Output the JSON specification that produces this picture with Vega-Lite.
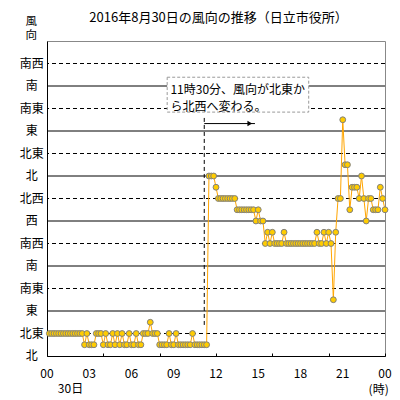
{
  "$schema": "https://vega.github.io/schema/vega-lite/v6.json",
  "autosize": "none",
  "width": 338,
  "height": 315,
  "padding": {"left": 47, "top": 41, "right": 15, "bottom": 44},
  "background": "white",
  "config": {
    "font": "Noto Sans CJK JP",
    "view": {"stroke": "#888888", "strokeWidth": 1}
  },
  "datasets": {
    "gridlines": [
      {"g": 0, "kind": "axis", "name": "北"}, {"g": 1, "kind": "dashed", "name": "北東"}, {"g": 2, "kind": "solid", "name": "東"},
      {"g": 3, "kind": "dashed", "name": "南東"}, {"g": 4, "kind": "solid", "name": "南"}, {"g": 5, "kind": "dashed", "name": "南西"},
      {"g": 6, "kind": "solid", "name": "西"}, {"g": 7, "kind": "dashed", "name": "北西"}, {"g": 8, "kind": "solid", "name": "北"},
      {"g": 9, "kind": "dashed", "name": "北東"}, {"g": 10, "kind": "solid", "name": "東"}, {"g": 11, "kind": "dashed", "name": "南東"},
      {"g": 12, "kind": "solid", "name": "南"}, {"g": 13, "kind": "dashed", "name": "南西"}
    ],
    "hours": [
      {"m": 0, "label": "00"}, {"m": 180, "label": "03"}, {"m": 360, "label": "06"}, {"m": 540, "label": "09"},
      {"m": 720, "label": "12"}, {"m": 900, "label": "15"}, {"m": 1080, "label": "18"}, {"m": 1260, "label": "21"},
      {"m": 1440, "label": "00"}
    ],
    "wind": [
      {"m": 10, "v": 1}, {"m": 20, "v": 1}, {"m": 30, "v": 1}, {"m": 40, "v": 1}, {"m": 50, "v": 1}, {"m": 60, "v": 1},
      {"m": 70, "v": 1}, {"m": 80, "v": 1}, {"m": 90, "v": 1}, {"m": 100, "v": 1}, {"m": 110, "v": 1}, {"m": 120, "v": 1},
      {"m": 130, "v": 1}, {"m": 140, "v": 1}, {"m": 150, "v": 1}, {"m": 160, "v": 0.5}, {"m": 170, "v": 1}, {"m": 180, "v": 0.5},
      {"m": 190, "v": 0.5}, {"m": 200, "v": 0.5}, {"m": 210, "v": 1}, {"m": 220, "v": 1}, {"m": 230, "v": 1}, {"m": 240, "v": 0.5},
      {"m": 250, "v": 1}, {"m": 260, "v": 0.5}, {"m": 270, "v": 0.5}, {"m": 280, "v": 1}, {"m": 290, "v": 0.5}, {"m": 300, "v": 1},
      {"m": 310, "v": 0.5}, {"m": 320, "v": 1}, {"m": 330, "v": 0.5}, {"m": 340, "v": 0.5}, {"m": 350, "v": 1}, {"m": 360, "v": 0.5},
      {"m": 370, "v": 0.5}, {"m": 380, "v": 1}, {"m": 390, "v": 0.5}, {"m": 400, "v": 0.5}, {"m": 410, "v": 1}, {"m": 420, "v": 1},
      {"m": 430, "v": 1}, {"m": 440, "v": 1.5}, {"m": 450, "v": 1}, {"m": 460, "v": 1}, {"m": 470, "v": 1}, {"m": 480, "v": 0.5},
      {"m": 490, "v": 0.5}, {"m": 500, "v": 0.5}, {"m": 510, "v": 0.5}, {"m": 520, "v": 1}, {"m": 530, "v": 0.5}, {"m": 540, "v": 0.5},
      {"m": 550, "v": 1}, {"m": 560, "v": 0.5}, {"m": 570, "v": 0.5}, {"m": 580, "v": 0.5}, {"m": 590, "v": 0.5}, {"m": 600, "v": 0.5},
      {"m": 610, "v": 0.5}, {"m": 620, "v": 1}, {"m": 630, "v": 0.5}, {"m": 640, "v": 0.5}, {"m": 650, "v": 0.5}, {"m": 660, "v": 0.5},
      {"m": 670, "v": 0.5}, {"m": 680, "v": 0.5}, {"m": 690, "v": 8}, {"m": 700, "v": 8}, {"m": 710, "v": 8}, {"m": 720, "v": 7.5},
      {"m": 730, "v": 7}, {"m": 740, "v": 7}, {"m": 750, "v": 7}, {"m": 760, "v": 7}, {"m": 770, "v": 7}, {"m": 780, "v": 7},
      {"m": 790, "v": 7}, {"m": 800, "v": 7}, {"m": 810, "v": 6.5}, {"m": 820, "v": 6.5}, {"m": 830, "v": 6.5}, {"m": 840, "v": 6.5},
      {"m": 850, "v": 6.5}, {"m": 860, "v": 6.5}, {"m": 870, "v": 6.5}, {"m": 880, "v": 6.5}, {"m": 890, "v": 6}, {"m": 900, "v": 6.5},
      {"m": 910, "v": 6}, {"m": 920, "v": 6}, {"m": 930, "v": 5}, {"m": 940, "v": 5.5}, {"m": 950, "v": 5}, {"m": 960, "v": 5.5},
      {"m": 970, "v": 5}, {"m": 980, "v": 5}, {"m": 990, "v": 5}, {"m": 1000, "v": 5}, {"m": 1010, "v": 5.5}, {"m": 1020, "v": 5},
      {"m": 1030, "v": 5}, {"m": 1040, "v": 5}, {"m": 1050, "v": 5}, {"m": 1060, "v": 5}, {"m": 1070, "v": 5}, {"m": 1080, "v": 5},
      {"m": 1090, "v": 5}, {"m": 1100, "v": 5}, {"m": 1110, "v": 5}, {"m": 1120, "v": 5}, {"m": 1130, "v": 5}, {"m": 1140, "v": 5},
      {"m": 1150, "v": 5.5}, {"m": 1160, "v": 5}, {"m": 1170, "v": 5}, {"m": 1180, "v": 5.5}, {"m": 1190, "v": 5}, {"m": 1200, "v": 5.5},
      {"m": 1210, "v": 5}, {"m": 1220, "v": 2.5}, {"m": 1230, "v": 5.5}, {"m": 1240, "v": 7}, {"m": 1250, "v": 7}, {"m": 1260, "v": 10.5},
      {"m": 1270, "v": 8.5}, {"m": 1280, "v": 8.5}, {"m": 1290, "v": 6.5}, {"m": 1300, "v": 7.5}, {"m": 1310, "v": 7.5}, {"m": 1320, "v": 7.5},
      {"m": 1330, "v": 7}, {"m": 1340, "v": 8}, {"m": 1350, "v": 7}, {"m": 1360, "v": 6}, {"m": 1370, "v": 7}, {"m": 1380, "v": 7},
      {"m": 1390, "v": 6.5}, {"m": 1400, "v": 6.5}, {"m": 1410, "v": 6.5}, {"m": 1420, "v": 7.5}, {"m": 1430, "v": 7}, {"m": 1440, "v": 6.5}
    ]
  },
  "layer": [
    {
      "data": {"name": "gridlines"},
      "transform": [{"filter": "datum.kind === 'solid'"}],
      "mark": {"type": "rule", "color": "black", "strokeWidth": 1},
      "encoding": {
        "y": {"field": "g", "type": "quantitative"}
      }
    },
    {
      "data": {"name": "gridlines"},
      "transform": [{"filter": "datum.kind === 'dashed'"}],
      "mark": {"type": "rule", "color": "black", "strokeWidth": 1, "strokeDash": [4, 3]},
      "encoding": {
        "y": {"field": "g", "type": "quantitative"}
      }
    },
    {
      "data": {"name": "gridlines"},
      "mark": {"type": "text", "align": "center", "baseline": "middle", "fontSize": 12, "color": "black"},
      "encoding": {
        "x": {"datum": -65, "type": "quantitative"},
        "y": {"field": "g", "type": "quantitative"},
        "text": {"field": "name"}
      }
    },
    {
      "data": {"name": "hours"},
      "mark": {"type": "text", "align": "center", "baseline": "middle", "fontSize": 12, "color": "black"},
      "encoding": {
        "x": {"field": "m", "type": "quantitative"},
        "y": {"datum": -0.78, "type": "quantitative"},
        "text": {"field": "label"}
      }
    },
    {
      "data": {"values": [{}]},
      "mark": {"type": "text", "text": "2016年8月30日の風向の推移（日立市役所）", "align": "center", "baseline": "middle", "fontSize": 13, "color": "black"},
      "encoding": {
        "x": {"datum": 731, "type": "quantitative"},
        "y": {"datum": 15.01, "type": "quantitative"}
      }
    },
    {
      "data": {"values": [{}]},
      "mark": {"type": "text", "text": ["風", "向"], "align": "center", "baseline": "top", "lineHeight": 14, "fontSize": 11.5, "color": "black"},
      "encoding": {
        "x": {"datum": -67, "type": "quantitative"},
        "y": {"datum": 15.13, "type": "quantitative"}
      }
    },
    {
      "data": {"values": [{}]},
      "mark": {"type": "rect", "fill": "white", "stroke": "#999999", "strokeWidth": 1, "strokeDash": [3, 2]},
      "encoding": {
        "x": {"datum": 512, "type": "quantitative"},
        "x2": {"datum": 1115},
        "y": {"datum": 12.39, "type": "quantitative"},
        "y2": {"datum": 10.84}
      }
    },
    {
      "data": {"values": [{}]},
      "mark": {"type": "text", "text": "11時30分、風向が北東か", "align": "left", "baseline": "middle", "fontSize": 12, "color": "black"},
      "encoding": {
        "x": {"datum": 526, "type": "quantitative"},
        "y": {"datum": 11.81, "type": "quantitative"}
      }
    },
    {
      "data": {"values": [{}]},
      "mark": {"type": "text", "text": "ら北西へ変わる。", "align": "left", "baseline": "middle", "fontSize": 12, "color": "black"},
      "encoding": {
        "x": {"datum": 526, "type": "quantitative"},
        "y": {"datum": 11.07, "type": "quantitative"}
      }
    },
    {
      "data": {"values": [{}]},
      "mark": {"type": "rule", "color": "black", "strokeWidth": 1, "strokeDash": [4, 3]},
      "encoding": {
        "x": {"datum": 670, "type": "quantitative"},
        "y": {"datum": 10.58, "type": "quantitative"},
        "y2": {"datum": 1.36}
      }
    },
    {
      "data": {"values": [{}]},
      "mark": {"type": "rule", "color": "black", "strokeWidth": 1},
      "encoding": {
        "x": {"datum": 670, "type": "quantitative"},
        "x2": {"datum": 886},
        "y": {"datum": 10.33, "type": "quantitative"}
      }
    },
    {
      "data": {"values": [{}]},
      "mark": {"type": "point", "shape": "triangle-right", "filled": true, "color": "black", "size": 30, "opacity": 1},
      "encoding": {
        "x": {"datum": 864, "type": "quantitative"},
        "y": {"datum": 10.33, "type": "quantitative"}
      }
    },
    {
      "data": {"values": [{}]},
      "mark": {"type": "text", "text": "(時)", "align": "center", "baseline": "middle", "fontSize": 12, "color": "black"},
      "encoding": {
        "x": {"datum": 1413, "type": "quantitative"},
        "y": {"datum": -1.49, "type": "quantitative"}
      }
    },
    {
      "data": {"name": "wind"},
      "mark": {"type": "line", "color": "#FFA500", "strokeWidth": 1},
      "encoding": {
        "x": {
          "field": "m", "type": "quantitative",
          "scale": {"domain": [0, 1440], "nice": false, "zero": false},
          "axis": {
            "title": "30日",
            "titleFontSize": 12, "titleFontWeight": "normal", "titleColor": "black",
            "titleAngle": 0, "titleAlign": "center", "titleBaseline": "middle", "titleX": 23, "titleY": 32,
            "values": [0, 60, 120, 180, 240, 300, 360, 420, 480, 540, 600, 660, 720, 780, 840, 900, 960, 1020, 1080, 1140, 1200, 1260, 1320, 1380, 1440],
            "labels": false,
            "grid": false,
            "ticks": true, "tickSize": -3, "tickColor": "black",
            "domainColor": "black"
          }
        },
        "y": {
          "field": "v", "type": "quantitative",
          "scale": {"domain": [0, 14], "nice": false, "zero": false},
          "axis": {
            "labels": false,
            "ticks": false,
            "domainColor": "black",
            "grid": false,
            "title": null
          }
        }
      }
    },
    {
      "data": {"name": "wind"},
      "mark": {"type": "point", "shape": "circle", "filled": true, "fill": "#FFCC00", "stroke": "#808080", "strokeWidth": 1, "size": 34, "opacity": 1},
      "encoding": {
        "x": {"field": "m", "type": "quantitative"},
        "y": {"field": "v", "type": "quantitative"}
      }
    }
  ]
}
